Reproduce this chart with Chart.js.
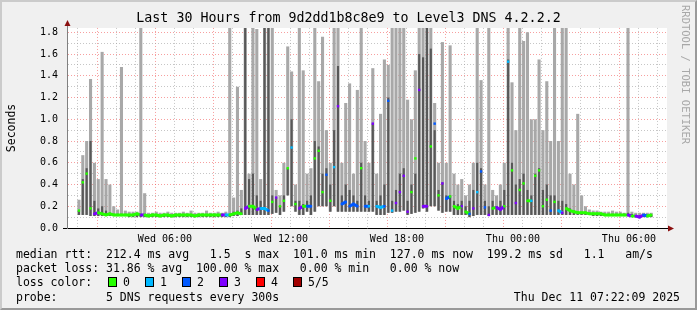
<!DOCTYPE html>
<html>
<head>
<meta charset="utf-8">
<script src="https://cdn.jsdelivr.net/npm/chart.js@4/dist/chart.umd.min.js"></script>
<style>
  html, body { margin: 0; padding: 0; }
  body { width: 697px; height: 310px; overflow: hidden; position: relative; font-family: "DejaVu Sans Mono", monospace; }
  #marco { position: absolute; left: 0; top: 0; width: 697px; height: 310px; box-sizing: border-box;
           background: #f0f0f0; border-top: 2px solid #cbcbcb; border-left: 2px solid #cbcbcb;
           border-right: 2px solid #999; border-bottom: 2px solid #999; }
  #grafico { position: absolute; left: 0; top: 0; }
  #rrd { position: absolute; left: 680px; top: 5px; writing-mode: vertical-rl; font-size: 10.5px; color: #a8a8a8; }
  .ln { position: absolute; left: 16px; font-size: 11.5px; line-height: 14px; white-space: pre; color: #000; }
  .caja { position: absolute; top: 276.5px; width: 8.5px; height: 10.5px; box-sizing: border-box; border: 1px solid #000; }
  .cajatxt { position: absolute; top: 275px; font-size: 11.5px; line-height: 14px; white-space: pre; }
</style>
</head>
<body>
<div id="marco"></div>
<canvas id="grafico" width="697" height="310"></canvas>
<div id="rrd">RRDTOOL / TOBI OETIKER</div>
<div class="ln" style="top:247px">median rtt:  212.4 ms avg   1.5  s max  101.0 ms min  127.0 ms now  199.2 ms sd   1.1   am/s</div>
<div class="ln" style="top:261px">packet loss: 31.86 % avg  100.00 % max   0.00 % min   0.00 % now</div>
<div class="ln" style="top:275px">loss color:</div>
<div id="leyendaPerdida"></div>
<div class="ln" style="top:289.5px">probe:       5 DNS requests every 300s</div>
<div class="ln" style="top:289.5px; left:auto; right:17px">Thu Dec 11 07:22:09 2025</div>

<script>
// Datos: una ranura cada 12 minutos (minutos desde el miércoles 00:00)
const inicioMin = 93;
const pasoMin = 12;

// Humo: límite inferior, techo de la banda oscura, techo de la banda clara (segundos)
const smokeLo = [
  .12, .12, .12, .11, .11, .11, .11, .11, .11, .11,
  .11, .11, .11, .10, .10, .10, .10, .10, .10, .10,
  .10, .10, .10, .10, .10, .10, .10, .10, .10, .10,
  .10, .10, .10, .10, .10, .10, .10, .10, .10, .10,
  .11, .11, .12, .12, .12, .12, .12, .12, .12, .12,
  .13, .14, .12, .15, .30, .20, .15, .12, .12, .15,
  .12, .15, .20, .20, .20, .15, .20, .15, .15, .15,
  .15, .15, .15, .15, .15, .15, .15, .12, .12, .12,
  .14, .14, .15, .15, .16, .12, .13, .14, .15, .18,
  .15, .20, .20, .16, .14, .15, .15, .12, .12, .12,
  .12, .10, .11, .12, .12, .12, .11, .12, .12, .12,
  .12, .12, .12, .12, .12, .12, .12, .12, .12, .12,
  .12, .12, .12, .12, .12, .12, .12, .12, .12, .12,
  .12, .12, .12, .11, .11, .11, .11, .11, .11, .11,
  .11, .11, .11, .11, .10, .10, .10, .10, .10, null
];
const smokeMid = [
  .16, .45, .55, .80, .25, .18, .20, .16, .14, .13,
  .13, .13, .13, .12, .12, .12, .12, .12, .12, .12,
  .12, .12, .12, .12, .12, .12, .12, .12, .12, .12,
  .12, .12, .12, .12, .12, .12, .12, .12, .12, .13,
  .15, .16, .18, 1.84, .45, .50, .30, .25, 1.84, 1.84,
  .30, .28, .20, .30, .55, 1.00, .25, .25, .22, .25,
  .30, .80, .75, .50, .55, .40, .90, 1.49, .30, .40,
  .35, .30, .25, .60, .30, .25, .96, .25, .30, .40,
  1.20, .25, .35, .50, .55, .25, .40, .50, 1.60, 1.57,
  1.84, 1.65, .90, .35, .42, .30, .30, .25, .22, .25,
  .20, .25, .35, .60, .55, .25, .20, .25, .20, .25,
  .35, 1.55, .60, .40, .45, .50, .35, .30, .50, .55,
  .35, .40, .30, .30, .25, .25, .22, .18, .16, .15,
  .14, .14, .14, .13, .13, .13, .13, .13, .13, .13,
  .13, .13, .14, .13, .12, .12, .12, .12, .12, null
];
const smokeHi = [
  .26, .67, .80, 1.37, .60, .45, 1.62, .45, .40, .20,
  .17, 1.48, .16, .15, .15, .15, 1.84, .32, .14, .14,
  .15, .14, .14, .15, .14, .14, .14, .15, .14, .16,
  .14, .14, .14, .16, .14, .14, .15, .14, .15, 1.84,
  .28, 1.30, .35, 1.84, .50, 1.84, 1.83, .45, 1.84, 1.84,
  1.84, .35, .30, .60, 1.67, 1.44, .40, 1.84, 1.45, .50,
  .55, 1.84, 1.35, 1.76, .90, .60, 1.84, 1.84, .60, 1.15,
  1.33, .50, 1.27, 1.84, .80, .60, 1.47, .50, 1.05, 1.55,
  1.50, 1.84, 1.84, 1.84, 1.84, 1.18, 1.00, 1.45, 1.84, 1.84,
  1.84, 1.84, 1.15, .60, 1.71, .60, 1.68, .50, .40, .45,
  .30, .40, .60, 1.84, 1.36, .40, 1.84, .35, .30, .40,
  .60, 1.84, 1.34, .90, 1.84, 1.72, 1.80, 1.00, 1.00, 1.55,
  .90, 1.35, .80, 1.84, .80, 1.84, 1.84, .50, .40, 1.05,
  .30, .20, .17, .16, .16, .15, .15, .15, .16, .15,
  .15, .14, 1.84, .15, .14, .14, .14, .14, .14, null
];
// Mediana RTT (segundos) y pings perdidos de 5
const medianRtt = [
  .16, .42, .50, .18, .13, .14, .13, .12, .13, .12,
  .12, .12, .12, .12, .12, .13, .12, .12, .11, .12,
  .12, .11, .12, .12, .11, .12, .12, .12, .12, .12,
  .11, .12, .12, .12, .12, .12, .12, .12, .12, .12,
  .13, .14, .13, .18, .20, .20, .17, .18, .18, .16,
  .24, .28, .20, .25, .55, .74, .22, .18, .20, .20,
  .20, .64, .71, .33, .49, .25, .56, 1.12, .22, .24,
  .20, .22, .20, .55, .20, .20, .96, .20, .19, .20,
  1.17, .16, .23, .33, .48, .15, .33, .64, 1.27, .20,
  .20, .75, .96, .30, .41, .27, .29, .20, .18, .20,
  .15, .13, .18, .33, .52, .19, .12, .18, .19, .17,
  .20, 1.53, .53, .23, .35, .41, .25, .25, .48, .53,
  .20, .26, .16, .24, .16, .14, .18, .16, .15, .14,
  .14, .14, .13, .13, .13, .13, .12, .12, .12, .12,
  .12, .12, .12, .11, .11, .10, .12, .11, .12, null
];
const lossCount = [
  0, 0, 0, 0, 3, 0, 0, 0, 0, 0,
  0, 0, 0, 0, 0, 0, 3, 0, 0, 0,
  0, 0, 0, 0, 0, 0, 0, 0, 0, 0,
  0, 0, 0, 0, 0, 0, 0, 3, 1, 0,
  0, 0, 0, 3, 0, 0, 3, 1, 1, 2,
  0, 3, 0, 0, 0, 1, 0, 3, 0, 2,
  2, 0, 0, 0, 2, 0, 1, 3, 2, 2,
  2, 2, 2, 0, 2, 1, 3, 1, 1, 2,
  2, 1, 3, 3, 3, 3, 0, 0, 3, 3,
  3, 0, 2, 0, 3, 2, 0, 0, 0, 3,
  0, 2, 3, 1, 2, 2, 3, 0, 3, 3,
  0, 1, 0, 3, 0, 0, 0, 1, 0, 0,
  0, 0, 2, 0, 1, 3, 0, 0, 0, 0,
  0, 0, 0, 0, 0, 0, 0, 0, 0, 0,
  0, 0, 3, 0, 3, 3, 2, 0, 0, 0
];

const lossLabels = ['0', '1', '2', '3', '4', '5/5'];
const lossColors = ['#26ff00', '#00b8ff', '#0059ff', '#7e00ff', '#ff0000', '#a10000'];

// Eje: ventana de 30 horas
const ejeMin = 87;
const ejeMax = 1887;
const yMax = 1.84;

/* ========= LEYENDA DE PÉRDIDA ========= */
const leyenda = document.getElementById('leyendaPerdida');
lossLabels.forEach((txt, i) => {
  const caja = document.createElement('div');
  caja.className = 'caja';
  caja.style.left = (108 + 37 * i) + 'px';
  caja.style.background = lossColors[i];
  leyenda.appendChild(caja);
  const et = document.createElement('div');
  et.className = 'cajatxt';
  et.style.left = (123 + 37 * i) + 'px';
  et.textContent = txt;
  leyenda.appendChild(et);
});

/* ========= GRÁFICO ========= */
const tiempo = i => inicioMin + i * pasoMin;
const franja = (lo, hi) => lo.map((v, i) => ({ x: tiempo(i), y: v === null ? null : [v, hi[i]] }));

function etiquetaHora(v) {
  if (v % 360 !== 0) return '';
  const dia = v < 1440 ? 'Wed' : 'Thu';
  const h = Math.floor((v % 1440) / 60);
  return dia + ' ' + String(h).padStart(2, '0') + ':00';
}

const colorRejilla = mayor => mayor ? 'rgba(240,80,80,0.55)' : 'rgba(160,160,160,0.6)';

const fondoPlugin = {
  id: 'fondo',
  beforeDraw(chart) {
    const { ctx, chartArea: a } = chart;
    ctx.save();
    ctx.fillStyle = '#ffffff';
    ctx.fillRect(a.left, a.top, a.right - a.left, a.bottom - a.top);
    ctx.restore();
  },
  afterDraw(chart) {
    const { ctx, chartArea: a } = chart;
    ctx.save();
    ctx.strokeStyle = '#808080';
    ctx.beginPath();
    ctx.moveTo(a.left + 0.5, a.top);
    ctx.lineTo(a.left + 0.5, a.top - 3);
    ctx.stroke();
    ctx.strokeStyle = '#000';
    ctx.beginPath();
    ctx.moveTo(a.left - 4, a.bottom + 0.5);
    ctx.lineTo(a.left, a.bottom + 0.5);
    ctx.stroke();
    ctx.fillStyle = '#8b1010';
    ctx.beginPath();
    ctx.moveTo(a.left - 2.5, a.top - 2);
    ctx.lineTo(a.left + 3.5, a.top - 2);
    ctx.lineTo(a.left + 0.5, a.top - 8);
    ctx.closePath();
    ctx.fill();
    ctx.beginPath();
    ctx.moveTo(a.right + 1, a.bottom - 2.5);
    ctx.lineTo(a.right + 1, a.bottom + 3.5);
    ctx.lineTo(a.right + 7, a.bottom + 0.5);
    ctx.closePath();
    ctx.fill();
    ctx.restore();
  }
};

Chart.defaults.font.family = '"DejaVu Sans Mono", monospace';
Chart.defaults.color = '#000';

new Chart(document.getElementById('grafico'), {
  data: {
    datasets: [
      {
        type: 'line',
        label: 'median',
        data: medianRtt.map((v, i) => ({ x: tiempo(i), y: v })),
        borderWidth: 3,
        pointStyle: 'rect',
        pointRadius: 1.7,
        pointBorderWidth: 0,
        pointBackgroundColor: lossCount.map(l => lossColors[l]),
        spanGaps: false,
        segment: {
          borderColor: c => Math.abs(c.p1.parsed.y - c.p0.parsed.y) > 0.03
            ? 'rgba(0,0,0,0)' : lossColors[lossCount[c.p0DataIndex]]
        },
        order: 1
      },
      {
        type: 'bar',
        label: 'smoke dark',
        data: franja(smokeLo, smokeMid),
        backgroundColor: '#585858',
        grouped: false,
        barPercentage: 0.55,
        categoryPercentage: 1,
        order: 2
      },
      {
        type: 'bar',
        label: 'smoke light',
        data: franja(smokeLo, smokeHi),
        backgroundColor: '#a8a8a8',
        grouped: false,
        barPercentage: 0.8,
        categoryPercentage: 1,
        order: 3
      }
    ]
  },
  options: {
    responsive: false,
    animation: false,
    devicePixelRatio: 1,
    layout: { padding: 0 },
    plugins: {
      legend: { display: false },
      tooltip: { enabled: false },
      title: {
        display: true,
        text: 'Last 30 Hours from 9d2dd1b8c8e9 to Level3 DNS 4.2.2.2',
        font: { size: 13.3, weight: 'normal', lineHeight: 1.2 },
        color: '#000',
        padding: { top: 11, bottom: 1 }
      }
    },
    scales: {
      x: {
        type: 'linear',
        min: ejeMin,
        max: ejeMax,
        afterBuildTicks: eje => {
          const t = [];
          for (let v = Math.ceil(eje.min / 60) * 60; v < eje.max; v += 60) t.push({ value: v });
          eje.ticks = t;
        },
        afterFit: eje => { eje.height = 82; },
        ticks: {
          autoSkip: false,
          maxRotation: 0,
          padding: 5,
          font: { size: 10 },
          color: '#000',
          callback: v => etiquetaHora(v)
        },
        grid: {
          drawTicks: false,
          lineWidth: 1,
          color: c => colorRejilla(c.tick && c.tick.value % 180 === 0)
        },
        border: { display: true, color: '#000', width: 1, dash: [1, 2] }
      },
      y: {
        type: 'linear',
        min: 0,
        max: yMax,
        afterBuildTicks: eje => {
          const t = [];
          for (let k = 0; k <= 18; k++) t.push({ value: k / 10 });
          eje.ticks = t;
        },
        afterFit: eje => { eje.width = 67; },
        ticks: {
          autoSkip: false,
          padding: 9,
          font: { size: 10 },
          color: '#000',
          callback: v => (Math.round(v * 10) % 2 === 0) ? v.toFixed(1) : ''
        },
        grid: {
          drawTicks: false,
          lineWidth: 1,
          color: c => colorRejilla(c.tick && Math.round(c.tick.value * 10) % 2 === 0)
        },
        border: { display: true, color: '#808080', width: 1, dash: [1, 2] },
        title: {
          display: true,
          text: 'Seconds',
          font: { size: 11.5 },
          color: '#000',
          padding: { top: 5, bottom: 0 }
        }
      },
      // eje vacío que reserva el margen derecho
      margen: {
        type: 'linear',
        position: 'right',
        display: true,
        afterFit: eje => { eje.width = 30; },
        grid: { display: false },
        ticks: { display: false },
        border: { display: false }
      }
    }
  },
  plugins: [fondoPlugin]
});
</script>
</body>
</html>
